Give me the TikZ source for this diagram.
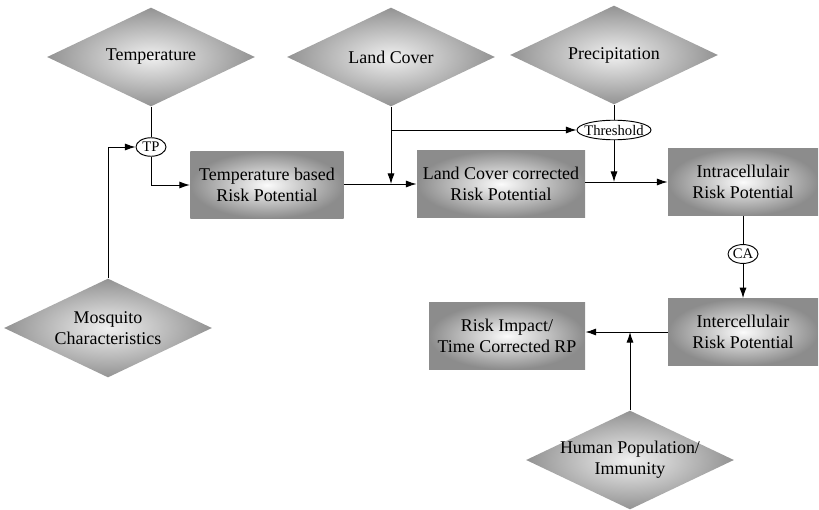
\documentclass[tikz,border=0pt]{standalone}
\usepackage{fontspec}
\setmainfont{Liberation Serif}
\usetikzlibrary{shapes.geometric,arrows.meta}

\begin{document}
\begin{tikzpicture}[x=0.03cm, y=-0.03cm, line width=0.8pt,
        factor/.style={diamond, aspect=2.1, inner sep=-3pt, minimum width=6.24cm, minimum height=2.97cm,
            shading=radial, inner color=gray!12, outer color=gray!85, align=center,
            font=\rmfamily\fontsize{15.3}{18}\selectfont},
        riskbox/.style={rectangle, minimum height=2cm, shading=radial, inner color=gray!3,
            outer color=gray!90, align=center, font=\rmfamily\fontsize{15.3}{18}\selectfont},
        operator/.style={ellipse, draw, fill=white, inner xsep=-3pt, inner ysep=1.5pt,
            minimum width=0.9cm, minimum height=0.5cm, font=\rmfamily\fontsize{12.5}{14}\selectfont},
        flow/.style={-{Latex[length=9pt,width=6pt]}}]
            \useasboundingbox (0,0) rectangle (819,510);
            % inputs
            \node[factor] (temp) at (151,57) {Temperature};
            \node[factor] (lc) at (391,57) {Land Cover};
            \node[factor] (prec) at (614,55) {Precipitation};
            \node[factor] (mosq) at (108,328) {Mosquito\\Characteristics};
            \node[factor] (human) at (630,460) {Human Population/\\Immunity};
            % operators
            \node[operator] (tp) at (151,147) {TP};
            \node[operator] (thr) at (614,130) {Threshold};
            \node[operator] (ca) at (743,254) {CA};
            % risk potentials
            \node[riskbox, minimum width=4.6cm] (tbrp) at (267,185) {Temperature based\\Risk Potential};
            \node[riskbox, minimum width=5.04cm] (lcrp) at (501,184) {Land Cover corrected\\Risk Potential};
            \node[riskbox, minimum width=4.5cm] (intra) at (743,182) {Intracellulair\\Risk Potential};
            \node[riskbox, minimum width=4.5cm] (inter) at (743,332) {Intercellulair\\Risk Potential};
            \node[riskbox, minimum width=4.68cm] (impact) at (507,336) {Risk Impact/\\Time Corrected RP};
            % junctions
            \coordinate (j1) at (lc.south |- lcrp.west);
            \coordinate (j2) at (lc.south |- thr.west);
            \coordinate (j3) at (thr.south |- intra.west);
            \coordinate (j4) at (human.north |- inter.west);
            % connectors
            \draw (temp.south) -- (tp.north);
            \draw[flow] (mosq.north) |- (tp.west);
            \draw[flow] (tp.south) |- (tbrp.west);
            \draw[flow] (tbrp.east |- lcrp.west) -- (lcrp.west);
            \draw[flow] (lc.south) -- (j1);
            \draw[flow] (j2) -- (thr.west);
            \draw (prec.south) -- (thr.north);
            \draw[flow] (thr.south) -- (j3);
            \draw[flow] (lcrp.east |- intra.west) -- (intra.west);
            \draw (intra.south) -- (ca.north);
            \draw[flow] (ca.south) -- (inter.north);
            \draw[flow] (inter.west) -- (impact.east |- inter.west);
            \draw[flow] (human.north) -- (j4);
        \end{tikzpicture}
\end{document}
